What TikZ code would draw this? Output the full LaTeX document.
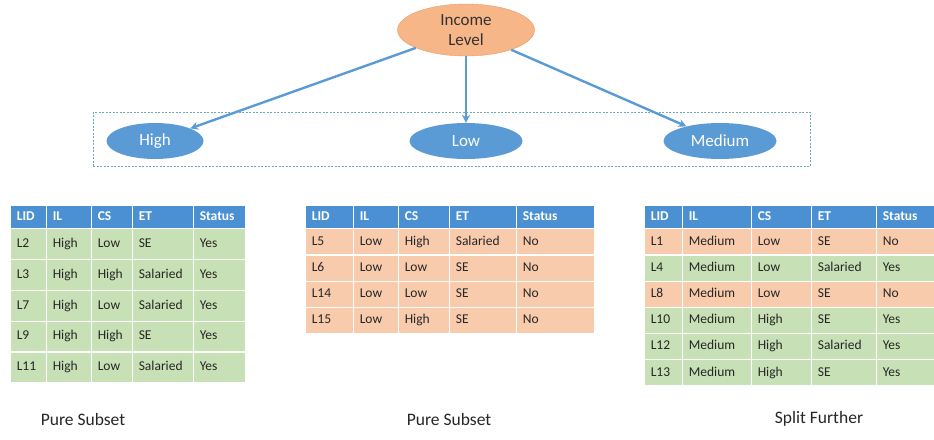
\documentclass[tikz,border=0pt]{standalone}
\usepackage{fontspec}
\setmainfont{Carlito}
\usepackage{tikz}
\usetikzlibrary{positioning}
\usetikzlibrary{shapes,calc,arrows.meta,matrix}
\definecolor{hdblue}{HTML}{4A90D2}
\definecolor{rowgreen}{HTML}{C7E0B5}
\definecolor{roworange}{HTML}{F8CBAD}
\definecolor{nodeblue}{HTML}{5B9BD5}
\definecolor{rootfill}{HTML}{F6B688}
\definecolor{rootline}{HTML}{E99A62}
\definecolor{boxline}{HTML}{6FA8B8}
\tikzset{
	x=1pt, y=-1pt,
	root/.style = {ellipse, draw=rootline, fill=rootfill, minimum width=137pt,
	 minimum height=52pt, inner sep=0pt, align=center,
	 font=\fontsize{17}{20.5}\selectfont, text=black!80},
	branch/.style = {ellipse, fill=nodeblue, minimum height=36pt, text=white,
	 font=\fontsize{17}{19}\selectfont},
	link/.style = {draw=nodeblue, line width=2.4pt, -{Stealth[length=8pt,width=8pt]}},
	group/.style = {rectangle, draw=boxline, line width=0.7pt, dash pattern=on 2pt off 1.5pt},
	datatab/.style = {matrix of nodes, anchor=north west, inner sep=0pt,
	 column sep=-1.2pt, row sep=-1.2pt,
	 nodes={rectangle, draw=white, line width=1.2pt, fill=rowgreen, outer sep=0pt,
	  inner xsep=6pt, inner ysep=0pt, text height=9.5pt, text depth=3pt,
	  minimum height=#1, align=left, font=\fontsize{13.5}{15}\selectfont, text=black!85},
	 row 1/.style={nodes={fill=hdblue, text=white, minimum height=23pt,
	  font=\fontsize{13.5}{15}\selectfont\bfseries}}},
	caption/.style = {font=\fontsize{17.5}{19}\selectfont, text=black!85},
}
\begin{document}
\begin{tikzpicture}
	\useasboundingbox (0,0) rectangle (934,439);
	% tree
	\node at(451.5,139) (split) [group, minimum width=717pt, minimum height=54pt] {};
	\node at(466,30) (income) [root] {Income\\Level};
	\node at(155,141) (high) [branch, minimum width=97pt] {High};
	\node at(466,141) (low) [branch, minimum width=113pt] {Low};
	\node at(720,141) (medium) [branch, minimum width=113pt] {Medium};
	\draw[link] (income) -- (high);
	\draw[link] (income) -- (low);
	\draw[link] (income) -- (medium);
	% subsets
	\matrix at(10,205) (highset) [datatab=30.8pt,
	  column 1/.style={nodes={text width=24pt}}, column 2/.style={nodes={text width=33pt}},
	  column 3/.style={nodes={text width=29pt}}, column 4/.style={nodes={text width=49pt}},
	  column 5/.style={nodes={text width=40pt}}] {
	  LID & IL & CS & ET & Status \\
	  L2 & High & Low & SE & Yes \\
	  L3 & High & High & Salaried & Yes \\
	  L7 & High & Low & Salaried & Yes \\
	  L9 & High & High & SE & Yes \\
	  L11 & High & Low & Salaried & Yes \\
	};
	\matrix at(305,205) (lowset) [datatab=26.2pt, nodes={fill=roworange},
	  column 1/.style={nodes={text width=36pt}}, column 2/.style={nodes={text width=33pt}},
	  column 3/.style={nodes={text width=39pt}}, column 4/.style={nodes={text width=55pt}},
	  column 5/.style={nodes={text width=66pt}}] {
	  LID & IL & CS & ET & Status \\
	  L5 & Low & High & Salaried & No \\
	  L6 & Low & Low & SE & No \\
	  L14 & Low & Low & SE & No \\
	  L15 & Low & High & SE & No \\
	};
	\matrix at(644,205) (mediumset) [datatab=26.2pt,
	  row 2/.style={nodes={fill=roworange}}, row 4/.style={nodes={fill=roworange}},
	  column 1/.style={nodes={text width=26pt}}, column 2/.style={nodes={text width=57pt}},
	  column 3/.style={nodes={text width=48pt}}, column 4/.style={nodes={text width=53pt}},
	  column 5/.style={nodes={text width=46pt}}] {
	  LID & IL & CS & ET & Status \\
	  L1 & Medium & Low & SE & No \\
	  L4 & Medium & Low & Salaried & Yes \\
	  L8 & Medium & Low & SE & No \\
	  L10 & Medium & High & SE & Yes \\
	  L12 & Medium & High & Salaried & Yes \\
	  L13 & Medium & High & SE & Yes \\
	};
	\node at(83,419) (highnote) [caption] {Pure Subset};
	\node at(449,419) (lownote) [caption] {Pure Subset};
	\node at(819,419) (mediumnote) [caption] {Split Further};
\end{tikzpicture}
\end{document}
